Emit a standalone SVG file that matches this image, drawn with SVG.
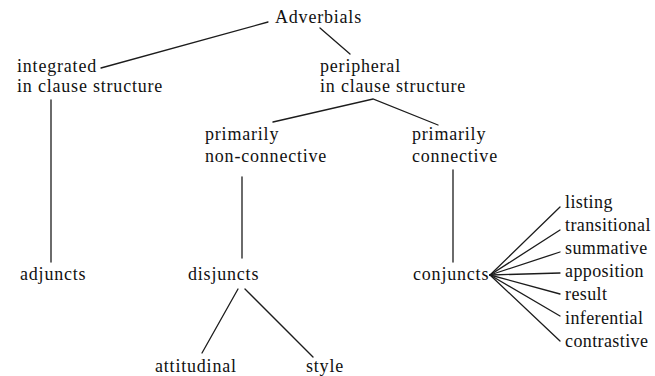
<svg xmlns="http://www.w3.org/2000/svg" width="655" height="376" viewBox="0 0 655 376">
<style>
text{font-family:"Liberation Serif","Times New Roman",serif;font-size:18px;letter-spacing:0.8px;fill:#111}
.r text{letter-spacing:0.4px}
.c line,.c polyline{stroke:#1c1c1c;stroke-width:1.3;fill:none;stroke-linecap:round}
</style>
<rect width="655" height="376" fill="#fff"/>
<g class="c" id="connectors">
<line x1="268" y1="22" x2="101" y2="68"/>
<line x1="320" y1="28" x2="350" y2="54"/>
<line x1="51" y1="100" x2="51" y2="262"/>
<polyline points="273,122 373,99 438,125"/>
<line x1="242" y1="177" x2="242" y2="258"/>
<line x1="453" y1="170" x2="453" y2="262"/>
<line x1="238" y1="289" x2="202" y2="353"/>
<line x1="245" y1="289" x2="313" y2="357"/>
<line x1="490" y1="275" x2="560" y2="207"/>
<line x1="490" y1="275" x2="560" y2="230"/>
<line x1="490" y1="275" x2="560" y2="252"/>
<line x1="490" y1="275" x2="560" y2="273"/>
<line x1="490" y1="275" x2="560" y2="294"/>
<line x1="490" y1="275" x2="560" y2="316"/>
<line x1="490" y1="275" x2="560" y2="341"/>
</g>
<g id="adverbials"><text x="275" y="23">Adverbials</text></g>
<g id="integrated"><text x="17" y="72">integrated</text><text x="17" y="92">in clause structure</text></g>
<g id="peripheral"><text x="320" y="72">peripheral</text><text x="320" y="92">in clause structure</text></g>
<g id="non-connective"><text x="205" y="140">primarily</text><text x="205" y="162">non-connective</text></g>
<g id="connective"><text x="412" y="140">primarily</text><text x="412" y="162">connective</text></g>
<g id="adjuncts"><text x="20" y="280">adjuncts</text></g>
<g id="disjuncts"><text x="188" y="280">disjuncts</text></g>
<g id="conjuncts"><text x="413" y="280">conjuncts</text></g>
<g id="attitudinal"><text x="155" y="372">attitudinal</text></g>
<g id="style"><text x="306" y="372">style</text></g>
<g class="r">
<g id="listing"><text x="565" y="208">listing</text></g>
<g id="transitional"><text x="565" y="231">transitional</text></g>
<g id="summative"><text x="565" y="254">summative</text></g>
<g id="apposition"><text x="565" y="277">apposition</text></g>
<g id="result"><text x="565" y="300">result</text></g>
<g id="inferential"><text x="565" y="324">inferential</text></g>
<g id="contrastive"><text x="565" y="347">contrastive</text></g>
</g>
</svg>
